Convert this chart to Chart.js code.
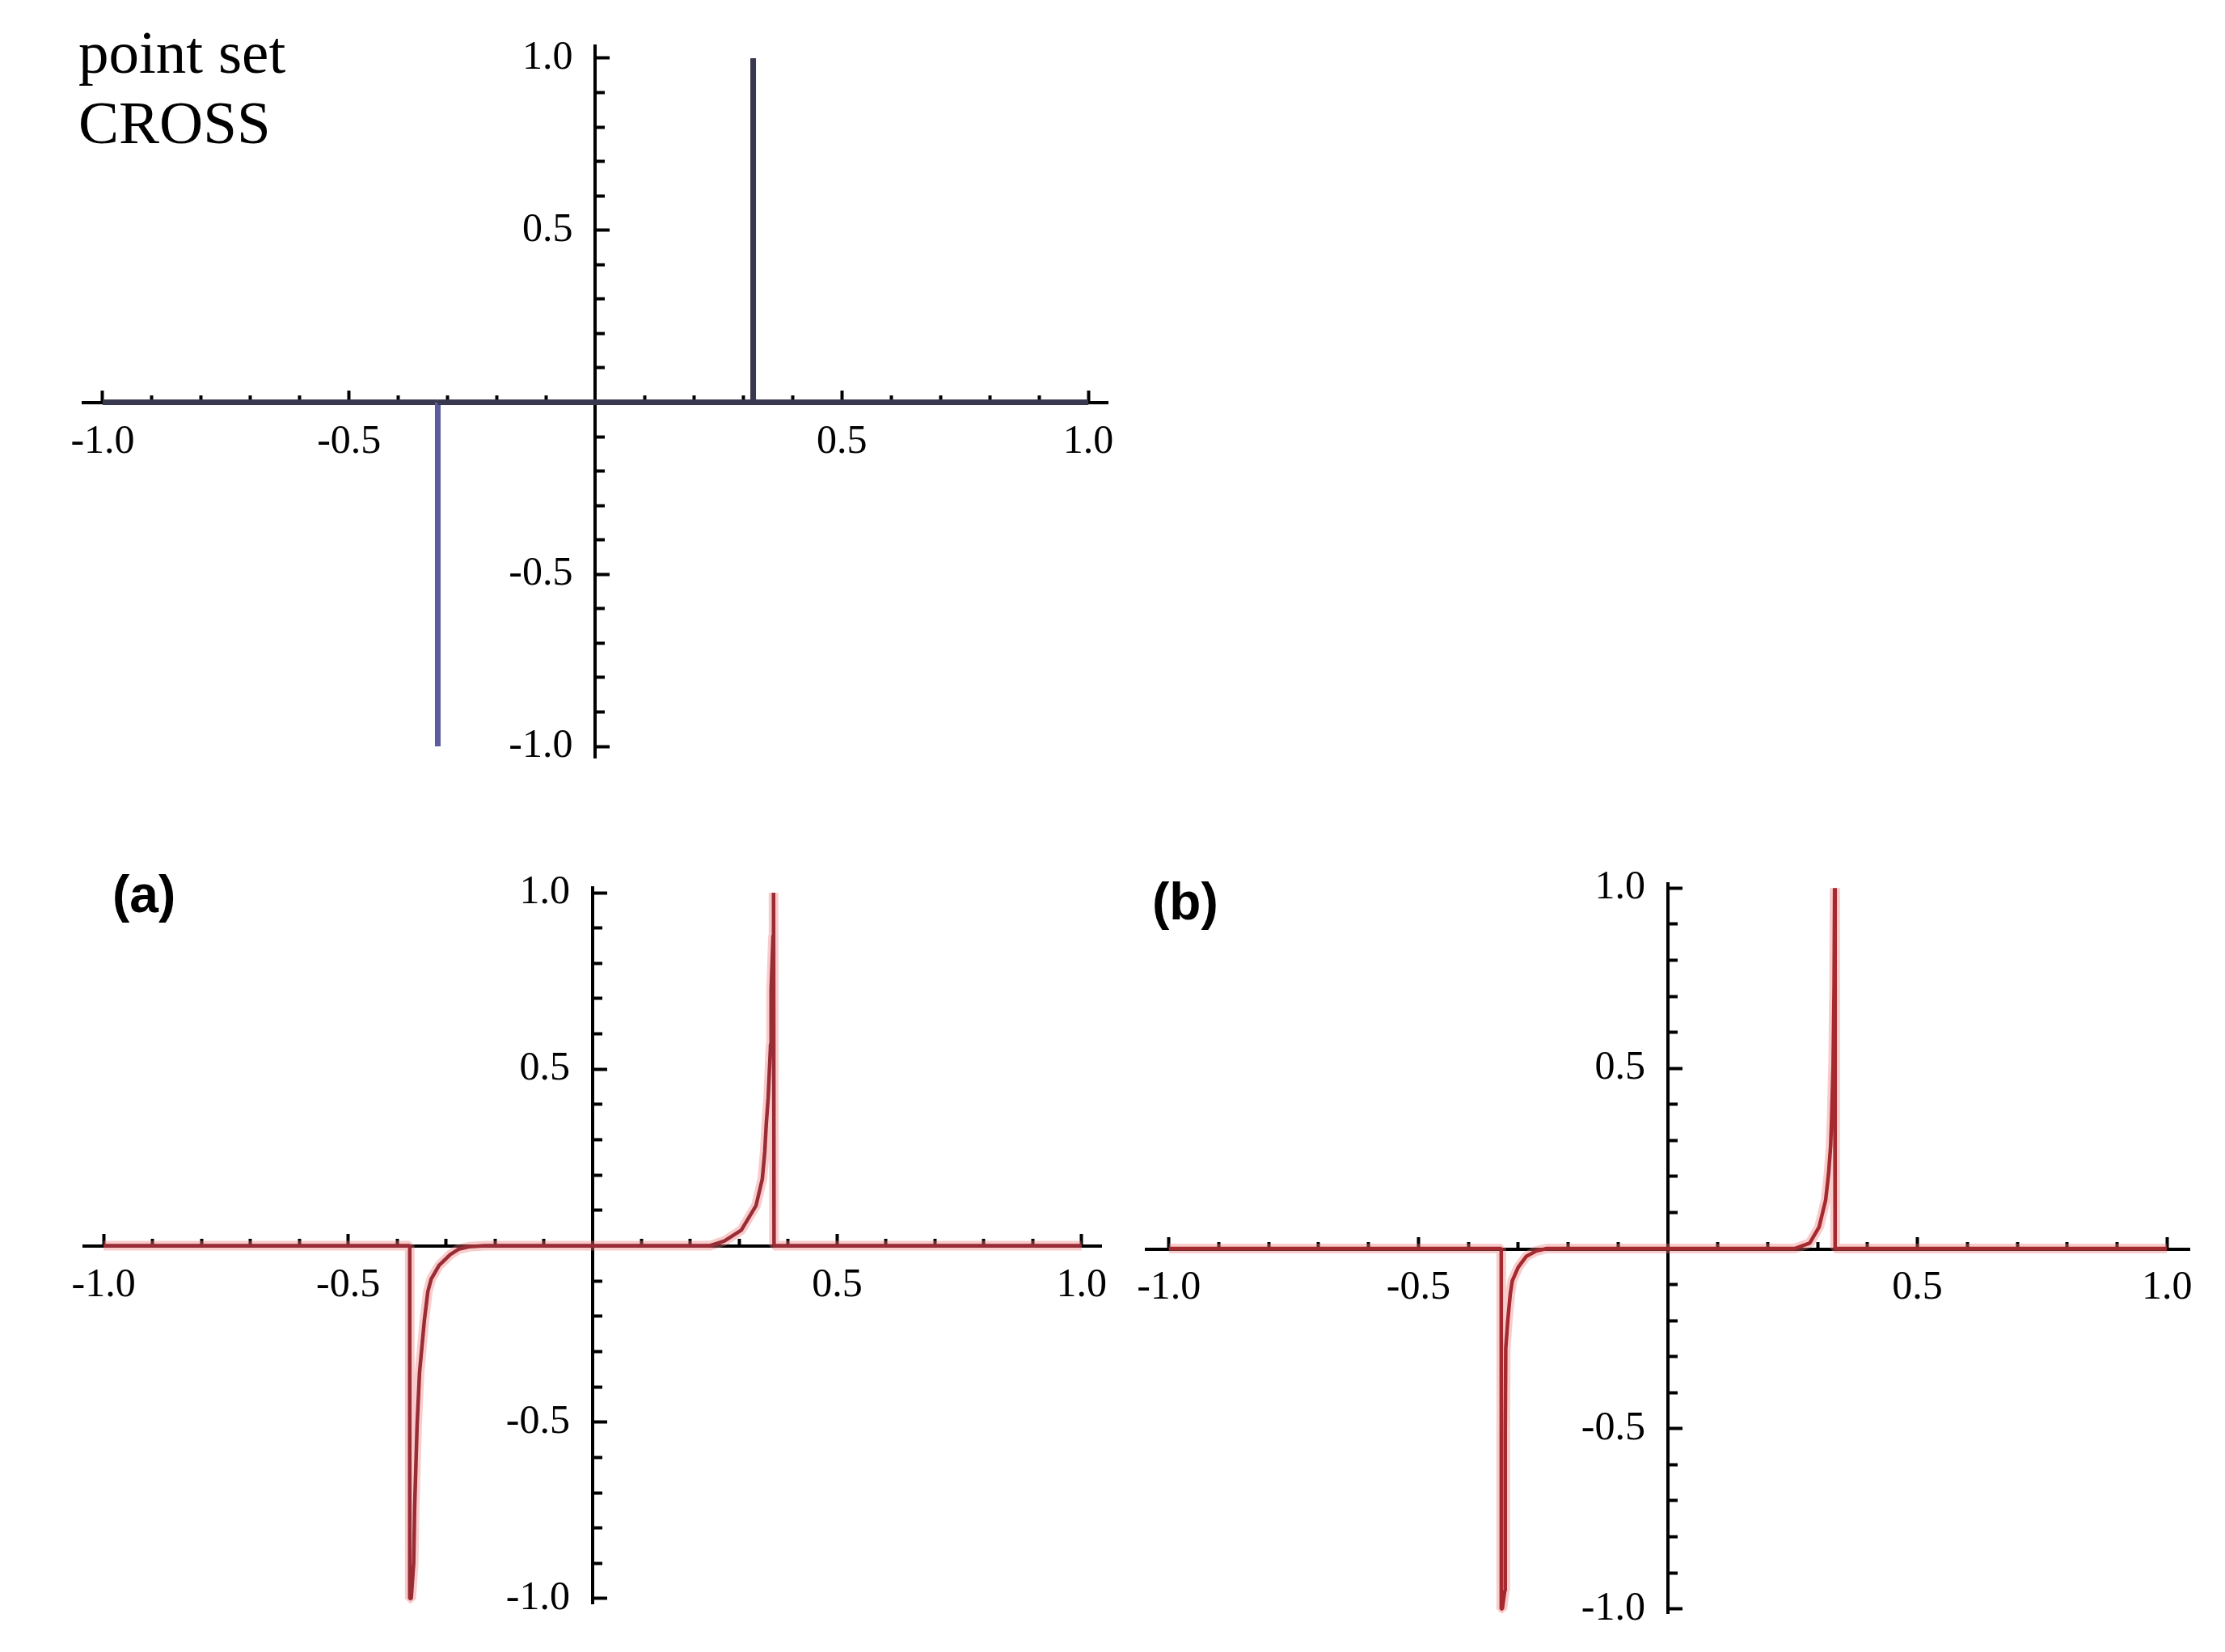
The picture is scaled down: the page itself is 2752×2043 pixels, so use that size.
<!DOCTYPE html>
<html>
<head>
<meta charset="utf-8">
<script src="https://cdn.jsdelivr.net/npm/chart.js@4.4.0/dist/chart.umd.min.js"></script>
<style>
html,body{margin:0;padding:0;background:#fff;}
body{width:2752px;height:2043px;position:relative;overflow:hidden;}
canvas{position:absolute;}
.lbl{position:absolute;white-space:nowrap;color:#000;}
</style>
</head>
<body>
<canvas id="c0"></canvas>
<canvas id="c1"></canvas>
<canvas id="c2"></canvas>
<div class="lbl" style="left:97px;top:21px;font:75px/87px 'Liberation Serif',serif;">point set<br>CROSS</div>
<div class="lbl" style="left:139px;top:1074px;font:bold 64px/64px 'Liberation Sans',sans-serif;">(a)</div>
<div class="lbl" style="left:1425px;top:1083px;font:bold 64px/64px 'Liberation Sans',sans-serif;">(b)</div>
<script>
// ---- data ----
const crossX = [-1.0, -0.32, -0.32, -0.32, 0.32, 0.32, 0.32, 1.0];
const crossY = [0, 0, -1.0, 0, 0, 1.0, 0, 0];

const curveAX = [-1.0, -0.374, -0.374, -0.371, -0.366, -0.364, -0.359, -0.354, -0.349, -0.344, -0.337, -0.330, -0.314, -0.291, -0.274, -0.253, -0.22,
                 0.24, 0.269, 0.304, 0.334, 0.347, 0.352, 0.355, 0.359, 0.364, 0.365, 0.369, 0.370, 0.371, 1.0];
const curveAY = [0, 0, -1.0, -1.0, -0.9, -0.74, -0.51, -0.36, -0.285, -0.21, -0.13, -0.094, -0.056, -0.025, -0.01, -0.003, 0,
                 0, 0.013, 0.044, 0.113, 0.189, 0.266, 0.343, 0.419, 0.572, 0.726, 0.879, 1.0, 0, 0];

const curveBX = [-1.0, -0.334, -0.334, -0.332, -0.327, -0.326, -0.326, -0.325, -0.321, -0.316, -0.312, -0.300, -0.284, -0.264, -0.243,
                 0.254, 0.284, 0.303, 0.316, 0.322, 0.326, 0.328, 0.331, 0.333, 0.334, 0.335, 1.0];
const curveBY = [0, 0, -1.0, -1.0, -0.95, -0.72, -0.5, -0.276, -0.2, -0.127, -0.09, -0.052, -0.022, -0.007, 0,
                 0, 0.015, 0.06, 0.134, 0.209, 0.284, 0.36, 0.51, 0.73, 1.0, 0, 0];

const majorTicks = [-1.0, -0.5, 0.5, 1.0];
const majorTickLabels = ['-1.0', '-0.5', '0.5', '1.0'];
const minorTicks = [-0.9, -0.8, -0.7, -0.6, -0.4, -0.3, -0.2, -0.1, 0.1, 0.2, 0.3, 0.4, 0.6, 0.7, 0.8, 0.9];

// ---- helpers ----
function pts(xs, ys) { return xs.map((x, i) => ({x: x, y: ys[i]})); }

const tickFont = {family: "'Liberation Serif', 'Times New Roman', serif", size: 50};

function axisPair(axis, range, z, majorLen, minorLen, labelGap) {
  const major = {
    type: 'linear', axis: axis, position: 'center', min: -range, max: range, z: z,
    afterBuildTicks: s => { s.ticks = majorTicks.map(v => ({value: v})); },
    ticks: {callback: (v, i) => majorTickLabels[i], font: tickFont, color: '#000',
            padding: labelGap + majorLen, autoSkip: false, maxRotation: 0, minRotation: 0},
    grid: {display: true, drawOnChartArea: false, drawTicks: true, tickLength: -majorLen, tickWidth: 4, tickColor: '#000'},
    border: {display: true, width: 4, color: '#000'}
  };
  const minor = {
    type: 'linear', axis: axis, position: 'center', min: -range, max: range, z: z,
    afterBuildTicks: s => { s.ticks = minorTicks.map(v => ({value: v})); },
    ticks: {display: false, autoSkip: false},
    grid: {display: true, drawOnChartArea: false, drawTicks: true, tickLength: -minorLen, tickWidth: 4, tickColor: '#000'},
    border: {display: false}
  };
  return [major, minor];
}

function makeChart(id, box, rx, ry, z, datasets) {
  const cv = document.getElementById(id);
  cv.width = box.w; cv.height = box.h;
  cv.style.left = box.left + 'px'; cv.style.top = box.top + 'px';
  const [xM, xm] = axisPair('x', rx, z, 17, 9, 19);
  const [yM, ym] = axisPair('y', ry, z, 20, 12, 28);
  return new Chart(cv, {
    type: 'line',
    data: {datasets: datasets},
    options: {
      responsive: false, animation: false, devicePixelRatio: 1,
      layout: {padding: box.pad},
      plugins: {legend: {display: false}, tooltip: {enabled: false}},
      scales: {x: xM, y: yM, x2: xm, y2: ym}
    }
  });
}

function lineDs(data, color, width) {
  return {data: data, xAxisID: 'x', yAxisID: 'y', borderColor: color, borderWidth: width,
          pointRadius: 0, tension: 0, fill: false, borderCapStyle: 'butt', borderJoinStyle: 'bevel'};
}

// ---- top panel: point set CROSS ----
const topDs = lineDs(pts(crossX, crossY), '#38384e', 7);
topDs.segment = {borderColor: c => (c.p0.parsed.y < 0 || c.p1.parsed.y < 0) ? '#5b5b9e' : undefined};
makeChart('c0', {left: -20, top: -60, w: 1500, h: 1108,
  pad: {left: 122.6, right: 109.6, top: 117.1, bottom: 110.1}}, 1.04, 1.035, 0, [topDs]);

// ---- panel (a) ----
const dataA = pts(curveAX, curveAY);
makeChart('c1', {left: -20, top: 980, w: 1492, h: 1114,
  pad: {left: 124, right: 110, top: 117.5, bottom: 110.5}}, 1.04, 1.015, 1,
  [lineDs(dataA, '#9a2c36', 4.5), lineDs(dataA, 'rgba(238,120,120,0.38)', 12)]);

// ---- panel (b) ----
const dataB = pts(curveBX, curveBY);
makeChart('c2', {left: 1300, top: 975, w: 1518, h: 1130,
  pad: {left: 118, right: 110, top: 118, bottom: 110}}, 1.045, 1.012, 1,
  [lineDs(dataB, '#a52a30', 4.5), lineDs(dataB, 'rgba(238,120,120,0.38)', 12)]);
</script>
</body>
</html>
